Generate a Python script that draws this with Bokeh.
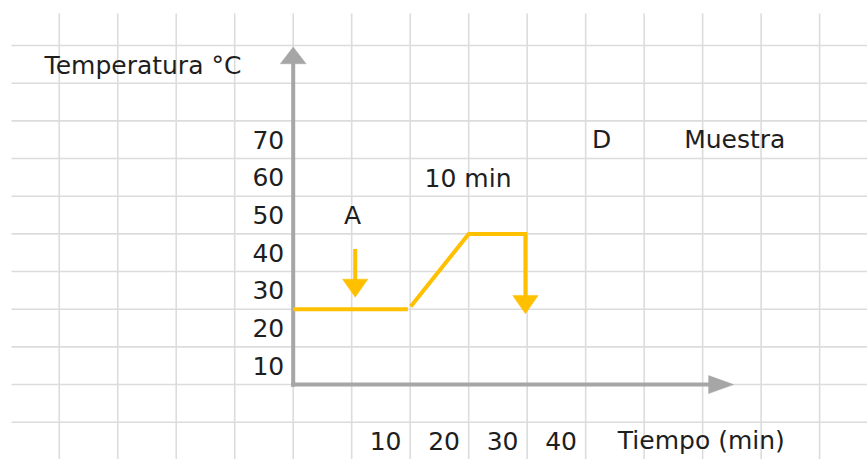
from bokeh.plotting import figure
from bokeh.models import Range1d
from bokeh.embed import file_html
from bokeh.resources import INLINE
from bokeh.core.properties import value

# ---------------- data ----------------
# temperature axis labels (°C), one per grid cell
y_tick_values = [10, 20, 30, 40, 50, 60, 70]
y_tick_labels = ["10", "20", "30", "40", "50", "60", "70"]
# time axis labels (min), each written in the cell that starts at its value
x_tick_cells = [10, 20, 30, 40]
x_tick_labels = ["10", "20", "30", "40"]

# sample temperature profile
hold_time = [0.0, 19.6]
hold_temp = [25.0, 25.0]
ramp_time = [20.1, 30.0, 39.7]
ramp_temp = [25.7, 45.0, 45.0]
drop_time = [39.7]
drop_start = [45.0]
drop_end = [23.8]
mark_a_time = [10.6]
mark_a_start = [41.0]
mark_a_end = [28.2]

# axis extents
y_axis_time = [0.0]
y_axis_bottom = [4.4]
y_axis_top = [94.6]
x_axis_temp = [5.0]
x_axis_left = [-0.35]
x_axis_right = [75.3]

# spreadsheet grid
grid_x = [-40, -30, -20, -10, 0, 10, 20, 30, 40, 50, 60, 70, 80, 90]
grid_y = [-5, 5, 15, 25, 35, 45, 55, 65, 75, 85, 95]

# free texts
notes = ["Temperatura °C", "A", "10 min", "D", "Muestra", "Tiempo (min)"]
notes_x = [-25.68, 10.14, 29.89, 52.71, 75.5, 69.78]
notes_y = [87.5, 47.84, 57.66, 67.85, 67.85, -12.05]

# ---------------- layout ----------------
W, H = 867, 459
SX = 5.849   # px per minute unit
SY = 3.767   # px per degree unit
X0 = -292.7 / SX
X1 = X0 + W / SX
Y1 = 402.9 / SY
Y0 = Y1 - H / SY
LIFT = 8.0 / SY  # text baseline correction

GOLD = "#FFC000"
GRAY = "#A6A6A6"
GRID = "#DCDCDC"
INK = "#1E1E1E"
FONT = value("DejaVu Sans")

p = figure(width=W, height=H, x_range=Range1d(X0, X1), y_range=Range1d(Y0, Y1),
           output_backend="svg", toolbar_location=None, min_border=0,
           x_axis_type=None, y_axis_type=None)
p.outline_line_color = None
p.background_fill_color = "white"
p.border_fill_color = "white"

# grid
grid_top = (402.9 - 13) / SY
grid_left = (11 - 292.7) / SX
p.segment(x0=grid_x, y0=[Y0 - 5] * len(grid_x), x1=grid_x, y1=[grid_top] * len(grid_x),
          line_color=GRID, line_width=1.6)
p.segment(x0=[grid_left] * len(grid_y), y0=grid_y, x1=[X1 + 5] * len(grid_y), y1=grid_y,
          line_color=GRID, line_width=1.6)


def head_down(x, tip, length_px, width_px):
    base = tip + length_px / SY
    return [x - width_px / 2 / SX, x + width_px / 2 / SX, x], [base, base, tip]


def head_up(x, tip, length_px, width_px):
    base = tip - length_px / SY
    return [x - width_px / 2 / SX, x + width_px / 2 / SX, x], [base, base, tip]


def head_right(y, tip, length_px, width_px):
    base = tip - length_px / SX
    return [base, base, tip], [y - width_px / 2 / SY, y + width_px / 2 / SY, y]


# axes (gray arrows)
hx, hy = head_up(y_axis_time[0], y_axis_top[0], 16.7, 25.7)
p.segment(x0=y_axis_time, y0=y_axis_bottom, x1=y_axis_time, y1=[hy[0] + 0.3],
          line_color=GRAY, line_width=4)
p.patch(hx, hy, fill_color=GRAY, line_color=GRAY, line_width=0.5)

hx, hy = head_right(x_axis_temp[0], x_axis_right[0], 25, 18)
p.segment(x0=x_axis_left, y0=x_axis_temp, x1=[hx[0] + 0.2], y1=x_axis_temp,
          line_color=GRAY, line_width=4)
p.patch(hx, hy, fill_color=GRAY, line_color=GRAY, line_width=0.5)

# profile
p.line(hold_time, hold_temp, line_color=GOLD, line_width=4)
p.line(ramp_time, ramp_temp, line_color=GOLD, line_width=4, line_join="miter")
hx, hy = head_down(drop_time[0], drop_end[0], 18.3, 25.4)
p.segment(x0=drop_time, y0=[drop_start[0] + 0.5], x1=drop_time, y1=[hy[0] - 0.3],
          line_color=GOLD, line_width=4)
p.patch(hx, hy, fill_color=GOLD, line_color=GOLD, line_width=0.5)

hx, hy = head_down(mark_a_time[0], mark_a_end[0], 18.0, 25.3)
p.segment(x0=mark_a_time, y0=mark_a_start, x1=mark_a_time, y1=[hy[0] - 0.3],
          line_color=GOLD, line_width=4)
p.patch(hx, hy, fill_color=GOLD, line_color=GOLD, line_width=0.5)

# tick labels
p.text(x=[-4.25] * len(y_tick_values), y=[v - 8.1 / SY + LIFT for v in y_tick_values],
       text=y_tick_labels, text_font=FONT, text_font_size="25px",
       text_align="center", text_baseline="alphabetic", text_color=INK)
p.text(x=[c + 5.8 for c in x_tick_cells], y=[-12.05 + LIFT] * len(x_tick_cells),
       text=x_tick_labels, text_font=FONT, text_font_size="25px",
       text_align="center", text_baseline="alphabetic", text_color=INK)

# free texts
p.text(x=notes_x, y=[v + LIFT for v in notes_y], text=notes, text_font=FONT,
       text_font_size="25px", text_align="center", text_baseline="alphabetic",
       text_color=INK)

open("out.html", "w").write(file_html(p, INLINE))
